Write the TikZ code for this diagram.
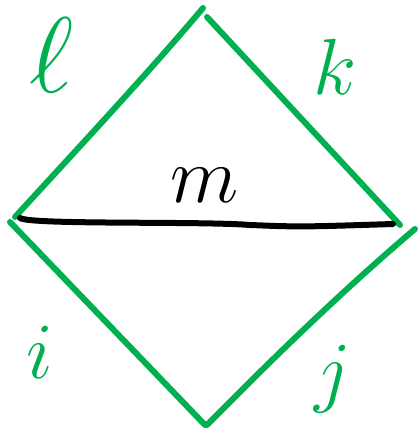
\documentclass[tikz,border=0pt]{standalone}
\usepackage{amsmath, amssymb}
\usepackage{tikz}
\usetikzlibrary{positioning}
\definecolor{PenGreen}{RGB}{0, 176, 80}
\tikzset{
  rim/.style={PenGreen, line width=6pt, line cap=round},
  chord/.style={black, line width=6pt, line cap=round},
  letter/.style={font=\Huge, scale=3.2, transform shape, anchor=base, inner sep=0pt}
}

\begin{document}
\begin{tikzpicture}[x=1pt, y=1pt]
    \useasboundingbox (0,0) rectangle (418,431);

    % Corners (hand drawn, the ends do not quite meet)
    \coordinate (tl-a) at (15,214);
    \coordinate (tl-b) at (203,423);
    \coordinate (tr-a) at (207,414);
    \coordinate (tr-b) at (400,206);
    \coordinate (bl-a) at (10,209);
    \coordinate (bl-b) at (205,6);
    \coordinate (br-a) at (415,202);
    \coordinate (br-b) at (207,6);
    \coordinate (m-a) at (20,213);
    \coordinate (m-b) at (393,207);

    % Diamond
    \draw[rim] (tl-a) .. controls (80,285) and (150,360) .. (tl-b);
    \draw[rim] (tr-a) -- (tr-b);
    \draw[rim] (bl-a) -- (bl-b);
    \draw[rim] (br-a) .. controls (342,140) and (272,72) .. (br-b);

    % Middle line
    \draw[chord] (m-a) .. controls (30,206) and (200,210) .. (250,206)
                 .. controls (300,204) .. (m-b);

    % Labels
    \node[letter, PenGreen, scale=1.35] (l) at (52,338) {$\ell$};
    \node[letter, PenGreen] (k) at (335,336) {$k$};
    \node[letter] (m) at (205,228) {$m$};
    \node[letter, PenGreen] (i) at (40,53) {$i$};
    \node[letter, PenGreen] (j) at (333,33) {$j$};
\end{tikzpicture}
\end{document}
